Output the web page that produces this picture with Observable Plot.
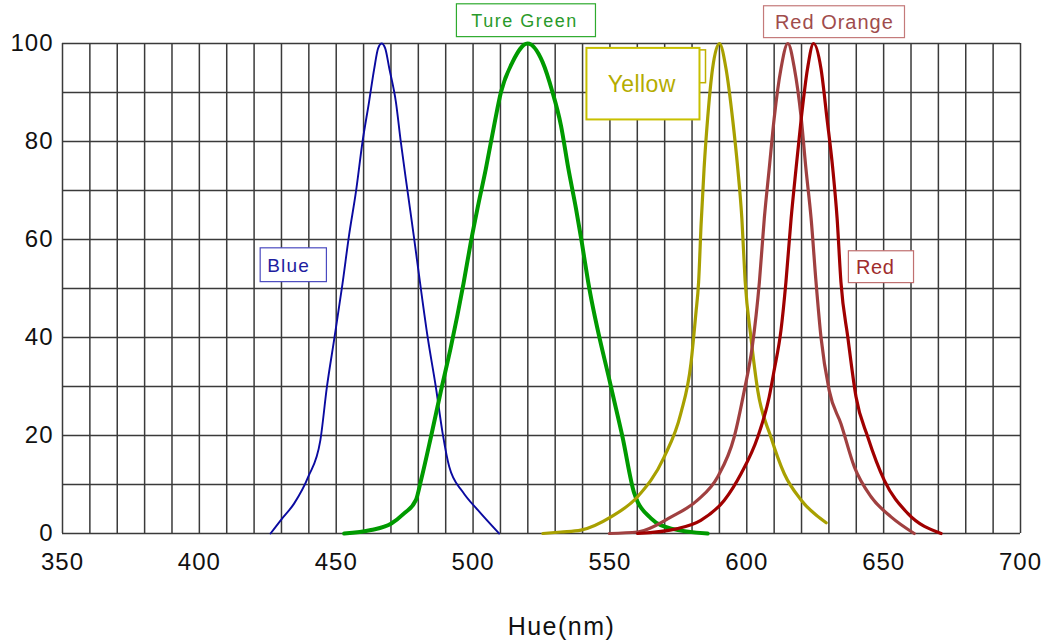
<!DOCTYPE html>
<html><head><meta charset="utf-8">
<script src="https://cdn.jsdelivr.net/npm/d3@7"></script>
<script src="https://cdn.jsdelivr.net/npm/@observablehq/plot@0.6"></script>
<style>body{margin:0;background:#fff;} svg{display:block}</style>
</head><body><div id="chart"></div>
<script>
// ---- data ----
const xTicks = [350, 400, 450, 500, 550, 600, 650, 700];
const yTicks = [0, 20, 40, 60, 80, 100];
const xGrid = d3.range(350, 701, 10);
const yGrid = d3.range(0, 101, 10);

const blueNm  = [426, 430, 434.6, 439.8, 444.2, 446.6, 449.2, 452.3, 454.7, 457.2, 459.6, 462, 463.9, 465.3, 466.6, 467.9, 469.4, 471.8, 473.6, 476.1, 478.3, 480.6, 483.4, 486.4, 488.9, 491.3, 496.2, 501.7, 509.5];
const blueVal = [0, 2.9, 6.1, 11.6, 19, 29.9, 39.4, 51, 60.9, 69.7, 79.9, 88.1, 94.9, 99, 100, 99, 94.9, 88.1, 79.9, 69.7, 60.9, 51.3, 40.1, 29.9, 20.4, 13.6, 8.5, 4.8, 0];

const greenNm  = [452.9, 462.7, 470, 474.8, 479.1, 481, 484.6, 488.3, 491.9, 496.5, 499.2, 501.6, 504.7, 507.7, 510.2, 514.4, 519.9, 525.4, 529, 532.1, 534.8, 537.6, 539.7, 542, 550.4, 554.6, 558.9, 565, 572.4, 585.7];
const greenVal = [0, 0.7, 2, 4.1, 6.8, 10.9, 19.7, 29.2, 38.1, 51, 59.5, 66.3, 74.5, 83.3, 90.1, 96.2, 100, 96.2, 90.1, 83.3, 74.5, 66.3, 59.5, 51.5, 29.9, 19.7, 8.2, 3.1, 1, 0];

const yellowNm  = [525.5, 532.1, 539.4, 550.4, 560.1, 569.8, 575.9, 579.6, 581.4, 582.4, 583.3, 584.4, 585.7, 587.5, 590, 592.4, 594.8, 596.7, 598.2, 599.4, 601.5, 604, 608.8, 613.7, 619.9, 629];
const yellowVal = [0, 0.3, 0.7, 3.4, 7.5, 15.6, 24.5, 34.7, 44.9, 51.3, 63, 74.5, 84.7, 94.9, 100, 94.9, 84.7, 74.5, 64.3, 51.5, 40.1, 29.2, 19.7, 12.2, 6.8, 2.2];

const redOrangeNm  = [549.8, 560.1, 572.4, 582, 589.4, 595.4, 599.1, 602, 604.6, 606.4, 608.2, 610, 612.5, 615, 617.4, 619.9, 621.6, 623.5, 625.3, 627.1, 630.1, 634.4, 639.3, 645.4, 652.7, 661.2];
const redOrangeVal = [0, 0.3, 3.4, 6.8, 11.6, 19.7, 29.2, 38.1, 51.3, 64.3, 74.5, 84.7, 94.9, 100, 94.9, 84.7, 74.5, 64.3, 51.3, 40.1, 29.2, 22.4, 13.6, 7.5, 3.4, 0];

const redNm  = [560.1, 574.7, 583.2, 591.8, 597.9, 604, 608.2, 610, 612.5, 614.3, 616.2, 618, 619.9, 622.2, 624.4, 627.1, 629.3, 631.4, 633, 634.4, 636.9, 639.9, 644.2, 650.2, 658.8, 671];
const redVal = [0, 1, 2.7, 6.8, 12.2, 19.7, 27.9, 33.3, 41.5, 51.3, 64.3, 74.5, 84.7, 94.9, 100, 94.9, 84.7, 74.5, 64.3, 51.3, 40.1, 27.9, 19.7, 10.9, 4.1, 0];

const seriesNames  = ["Blue", "Ture Green", "Yellow", "Red Orange", "Red"];
const seriesNm     = [blueNm, greenNm, yellowNm, redOrangeNm, redNm];
const seriesVal    = [blueVal, greenVal, yellowVal, redOrangeVal, redVal];
const seriesColors = ["#0a0aa0", "#009a00", "#a8a000", "#a04040", "#a00000"];
const seriesWidths = [1.9, 4, 3.2, 3.2, 3.2];

// label boxes (nm / value extents), label text centres
const labelNames   = ["Blue", "Ture Green", "Yellow", "Red Orange", "Red"];
const boxX1        = [422.4, 494.1, 541.6, 606.3, 637.3];
const boxX2        = [446.6, 544.9, 582.9, 657.8, 661.1];
const boxY1        = [51.3, 101.3, 84.4, 101.1, 51.1];
const boxY2        = [58.2, 108.0, 99.0, 107.6, 57.6];
const textX        = [432.6, 518.8, 561.6, 632, 646.9];
const textY        = [54.7, 104.5, 91.7, 104.2, 54.2];
const boxStroke    = ["#4a4ac0", "#2eaa2e", "#c8c000", "#c47a7a", "#c07070"];
const boxStrokeW   = [1.2, 1.2, 2, 1.2, 1.2];
const textColor    = ["#1e1ea0", "#2a9a2a", "#b4ac00", "#a04c4c", "#a02c2c"];
const textSize     = [19, 18, 23, 20, 20];
const textSpacing  = [1.2, 1.5, 0.4, 1, 0.6];
// hidden small box behind "Yellow"
const hiddenBox = {x1: 575, x2: 585.1, y1: 91.9, y2: 98.6};

// ---- build ----
const marks = [];
marks.push(Plot.gridX(xGrid, {stroke: "#3a3a3a", strokeOpacity: 1, strokeWidth: 1.5}));
marks.push(Plot.gridY(yGrid, {stroke: "#3a3a3a", strokeOpacity: 1, strokeWidth: 1.5}));
marks.push(Plot.axisX(xTicks, {tickSize: 0, tickPadding: 19, fontSize: 24, label: null, fill: "#111"}));
marks.push(Plot.axisY(yTicks, {tickSize: 0, tickPadding: 9, fontSize: 24, label: null, fill: "#111"}));

seriesNames.forEach((name, i) => {
  const rows = seriesNm[i].map((nm, j) => ({nm, value: seriesVal[i][j]}));
  marks.push(Plot.line(rows, {x: "nm", y: "value", stroke: seriesColors[i], strokeWidth: seriesWidths[i], curve: "monotone-x"}));
});

marks.push(Plot.rect([hiddenBox], {x1: "x1", x2: "x2", y1: "y1", y2: "y2", fill: "white", stroke: "#c0b000", strokeWidth: 1.5}));

labelNames.forEach((name, i) => {
  marks.push(Plot.rect([{x1: boxX1[i], x2: boxX2[i], y1: boxY1[i], y2: boxY2[i]}],
    {x1: "x1", x2: "x2", y1: "y1", y2: "y2", fill: "white", stroke: boxStroke[i], strokeWidth: boxStrokeW[i]}));
  marks.push(Plot.text([{x: textX[i], y: textY[i], t: name}],
    {x: "x", y: "y", text: "t", fill: textColor[i], fontSize: textSize[i]}));
});

marks.push(Plot.text(["Hue(nm)"], {frameAnchor: "bottom", dx: 20, dy: 101, fontSize: 25, fill: "#111"}));

const chart = Plot.plot({
  width: 1053,
  height: 643,
  marginLeft: 62,
  marginRight: 33,
  marginTop: 43,
  marginBottom: 110,
  x: {domain: [350, 700]},
  y: {domain: [0, 100]},
  style: {fontFamily: "'Liberation Sans', Arial, sans-serif", background: "white", overflow: "visible"},
  marks
});
document.getElementById("chart").appendChild(chart);
d3.select(chart).selectAll('g[aria-label="x-axis tick label"], g[aria-label="y-axis tick label"]').attr("letter-spacing", "1px");
const spacings = [...textSpacing, 1.5];
d3.select(chart).selectAll('g[aria-label="text"]').each(function(d, i) {
  if (i < spacings.length) d3.select(this).attr("letter-spacing", spacings[i] + "px");
});
</script>
</body></html>
